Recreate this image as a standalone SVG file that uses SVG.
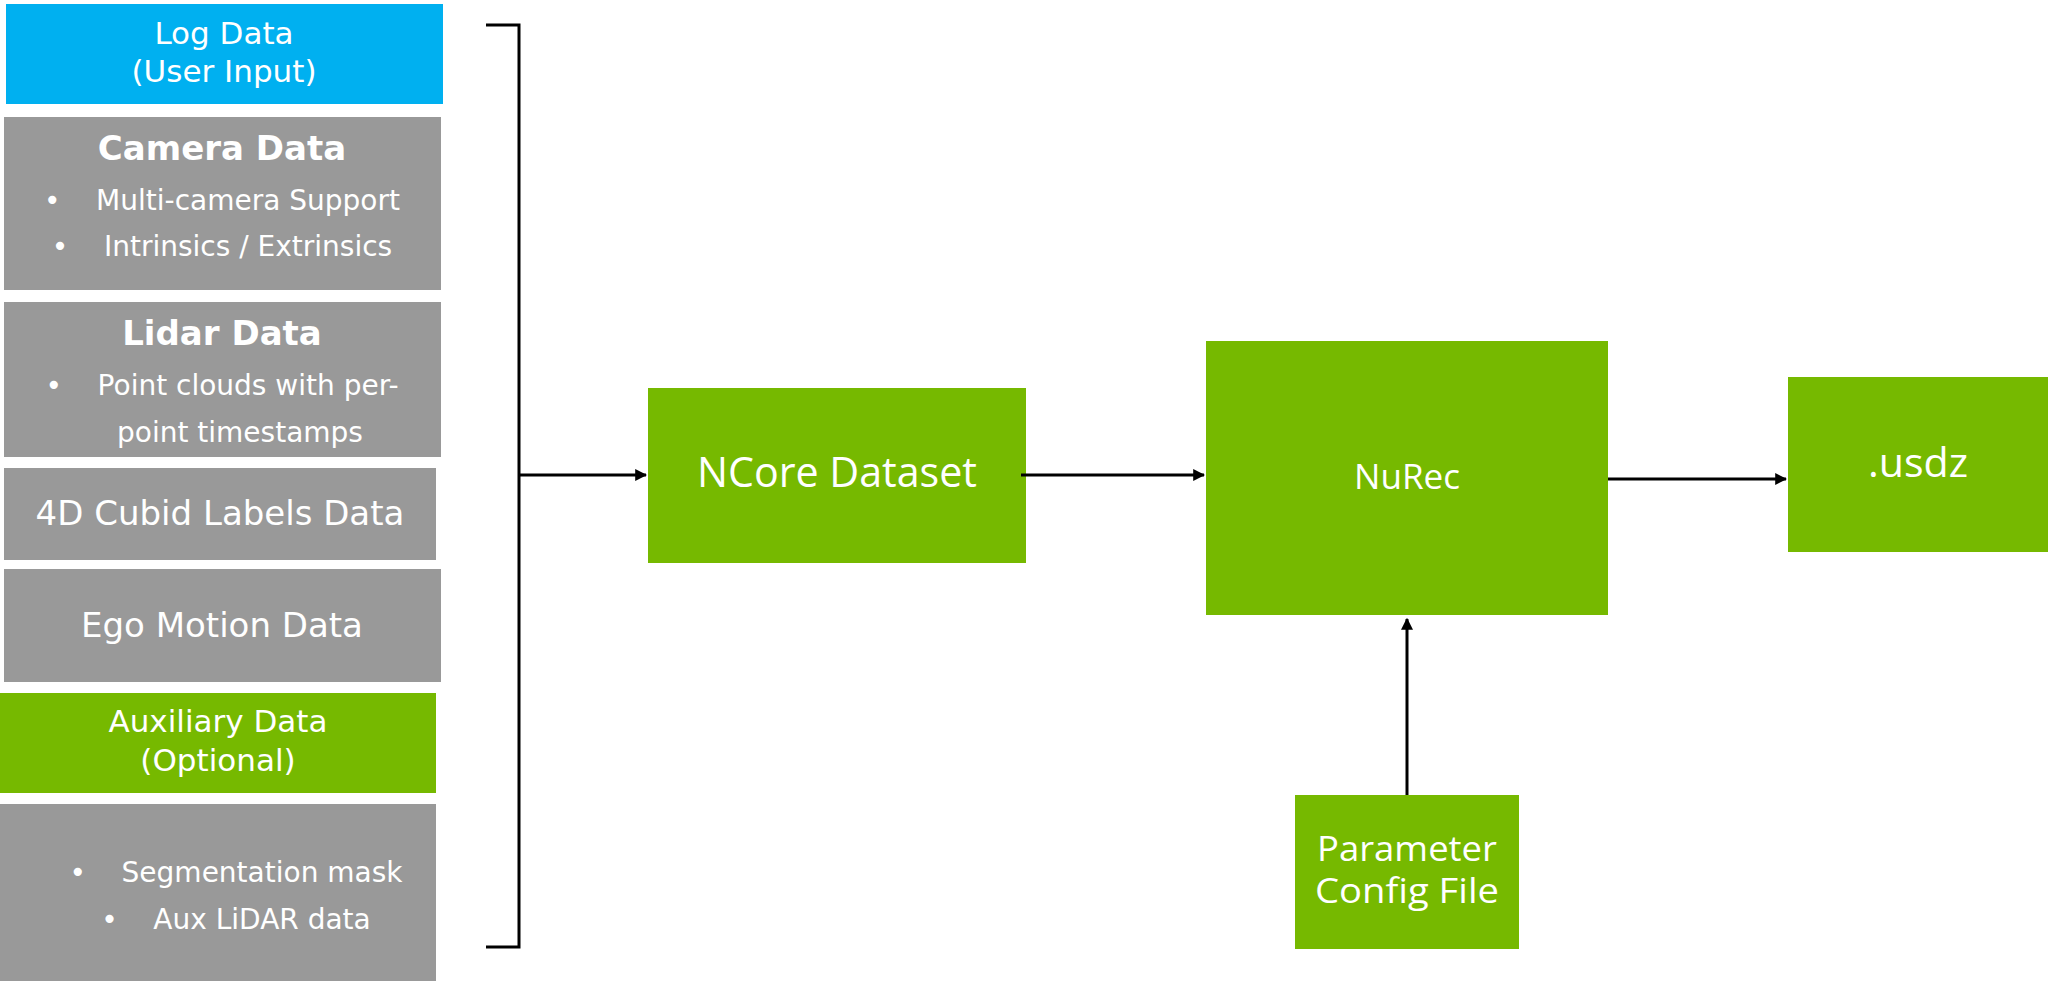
<svg xmlns="http://www.w3.org/2000/svg" width="2048" height="981" viewBox="0 0 2048 981">
<style>
.g{fill:#999999}.gr{fill:#76b900}.b{fill:#00b0f0}
.t{font-family:"DejaVu Sans",sans-serif;fill:#fff;text-anchor:middle}
.r{font-family:"Open Sans",sans-serif;fill:#fff;text-anchor:middle}
.ln{stroke:#000;stroke-width:3;fill:none}
</style>
<defs><marker id="a" viewBox="0 0 10 10" refX="9" refY="5" markerWidth="4" markerHeight="4" orient="auto"><path d="M0,0L10,5L0,10z" fill="#000"/></marker></defs>
<rect width="2048" height="981" fill="#fff"/>
<g id="log"><rect class="b" x="6" y="4" width="437" height="100"/><text class="t" font-size="31" x="224" y="44">Log Data</text><text class="t" font-size="31" x="224" y="82">(User Input)</text></g>
<g id="camera"><rect class="g" x="4" y="117" width="437" height="173"/><text class="t" font-size="34" font-weight="bold" x="222" y="160">Camera Data</text><text class="t" font-size="28" x="222" y="210" xml:space="preserve">•    Multi-camera Support</text><text class="t" font-size="28" x="222" y="256" xml:space="preserve">•    Intrinsics / Extrinsics</text></g>
<g id="lidar"><rect class="g" x="4" y="302" width="437" height="155"/><text class="t" font-size="34" font-weight="bold" x="222" y="345">Lidar Data</text><text class="t" font-size="28" x="222" y="395" xml:space="preserve">•    Point clouds with per-</text><text class="t" font-size="28" x="240" y="442">point timestamps</text></g>
<g id="cubid"><rect class="g" x="4" y="468" width="432" height="92"/><text class="t" font-size="34" x="220" y="525">4D Cubid Labels Data</text></g>
<g id="ego"><rect class="g" x="4" y="569" width="437" height="113"/><text class="t" font-size="34" x="222" y="637">Ego Motion Data</text></g>
<g id="aux"><rect class="gr" x="0" y="693" width="436" height="100"/><text class="t" font-size="31" x="218" y="732">Auxiliary Data</text><text class="t" font-size="31" x="218" y="771">(Optional)</text></g>
<g id="auxlist"><rect class="g" x="0" y="804" width="436" height="177"/><text class="t" font-size="28" x="236" y="882" xml:space="preserve">•    Segmentation mask</text><text class="t" font-size="28" x="236" y="929" xml:space="preserve">•    Aux LiDAR data</text></g>
<g id="ncore"><rect class="gr" x="648" y="388" width="378" height="175"/><text class="r" font-size="42" x="837" y="487" textLength="280" lengthAdjust="spacingAndGlyphs">NCore Dataset</text></g>
<g id="nurec"><rect class="gr" x="1206" y="341" width="402" height="274"/><text class="r" font-size="34" x="1407" y="489" textLength="106" lengthAdjust="spacingAndGlyphs">NuRec</text></g>
<g id="usdz"><rect class="gr" x="1788" y="377" width="260" height="175"/><text class="r" font-size="40" x="1918" y="477" textLength="100" lengthAdjust="spacingAndGlyphs">.usdz</text></g>
<g id="param"><rect class="gr" x="1295" y="795" width="224" height="154"/><text class="r" font-size="34" x="1407" y="861" textLength="180" lengthAdjust="spacingAndGlyphs">Parameter</text><text class="r" font-size="34" x="1407" y="903" textLength="184" lengthAdjust="spacingAndGlyphs">Config File</text></g>
<g id="connectors">
<path class="ln" d="M486,25H519V947H486"/>
<path class="ln" d="M519,475H646" marker-end="url(#a)"/>
<path class="ln" d="M1021,475H1204" marker-end="url(#a)"/>
<path class="ln" d="M1608,479H1786" marker-end="url(#a)"/>
<path class="ln" d="M1407,795V619" stroke-width="2.5" marker-end="url(#a)"/>
</g>
</svg>
